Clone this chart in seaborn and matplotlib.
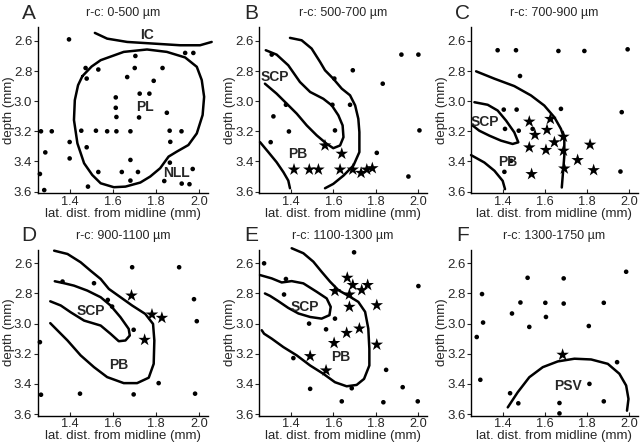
import numpy as np
import pandas as pd
import seaborn as sns
import matplotlib.pyplot as plt

# ==============================================================================
# 1. DATA (lat. dist. in mm, depth in mm)
# ==============================================================================
LETTERS = ['A', 'B', 'C', 'D', 'E', 'F']
TITLES = ['r-c: 0-500 \u00b5m', 'r-c: 500-700 \u00b5m', 'r-c: 700-900 \u00b5m',
          'r-c: 900-1100 \u00b5m', 'r-c: 1100-1300 \u00b5m', 'r-c: 1300-1750 \u00b5m']
X_TICKS = [1.4, 1.6, 1.8, 2.0]
Y_TICKS = [2.6, 2.8, 3.0, 3.2, 3.4, 3.6]

# --- panel A
A_DOTS = [(1.395, 2.59), (1.703, 2.70), (1.934, 2.68), (1.972, 2.68), (1.472, 2.78),
          (1.531, 2.79), (1.70, 2.78), (1.829, 2.78), (1.477, 2.85), (1.665, 2.84),
          (1.788, 2.865), (1.723, 2.95), (1.768, 2.95), (1.612, 2.975), (1.612, 3.044),
          (1.615, 3.105), (1.72, 3.108), (1.849, 3.077), (1.265, 3.20), (1.315, 3.20),
          (1.452, 3.196), (1.52, 3.196), (1.572, 3.20), (1.615, 3.20), (1.68, 3.20),
          (1.862, 3.196), (1.917, 3.20), (1.398, 3.271), (1.477, 3.306), (1.865, 3.27),
          (1.285, 3.34), (1.398, 3.38), (1.68, 3.39), (1.863, 3.408), (1.26, 3.483),
          (1.531, 3.47), (1.64, 3.47), (1.715, 3.47), (1.969, 3.45), (1.68, 3.527),
          (1.837, 3.53), (1.483, 3.567), (1.918, 3.547), (1.954, 3.551), (1.28, 3.59)]
A_STARS = []
A_LINES = [
    [(1.515, 2.547), (1.572, 2.585), (1.665, 2.607), (1.788, 2.618), (1.911, 2.629),
     (2.003, 2.629), (2.057, 2.607)],
    [(1.457, 2.834), (1.50, 2.77), (1.542, 2.728), (1.649, 2.673), (1.757, 2.657),
     (1.849, 2.673), (1.934, 2.71), (1.988, 2.772), (2.011, 2.86), (2.022, 2.971),
     (2.015, 3.092), (1.988, 3.214), (1.949, 3.291), (1.895, 3.335), (1.857, 3.368),
     (1.818, 3.445), (1.772, 3.50), (1.726, 3.54), (1.657, 3.567), (1.603, 3.571),
     (1.542, 3.545), (1.503, 3.49), (1.465, 3.412), (1.434, 3.28), (1.418, 3.125),
     (1.422, 2.993), (1.437, 2.894), (1.457, 2.834)],
]
A_LABELS = [('IC', 1.757, 2.562), ('PL', 1.749, 3.037), ('NLL', 1.895, 3.479)]

# --- panel B
B_DOTS = [(1.309, 2.691), (1.92, 2.691), (2.0, 2.691), (1.691, 2.795), (1.604, 2.85),
          (1.832, 2.884), (1.376, 3.024), (1.595, 3.024), (1.678, 3.024), (1.317, 3.101),
          (1.39, 3.201), (1.607, 3.194), (2.005, 3.194), (1.304, 3.272), (1.804, 3.343),
          (1.953, 3.50)]
B_STARS = [(1.56, 3.294), (1.639, 3.349), (1.414, 3.454), (1.486, 3.454), (1.529, 3.454),
           (1.631, 3.454), (1.691, 3.454), (1.73, 3.476), (1.757, 3.454), (1.783, 3.445)]
B_LINES = [
    [(1.395, 2.58), (1.45, 2.596), (1.497, 2.651), (1.537, 2.74), (1.56, 2.795),
     (1.599, 2.851), (1.639, 2.917), (1.678, 2.961), (1.702, 3.028), (1.717, 3.117),
     (1.722, 3.205), (1.722, 3.338), (1.694, 3.427), (1.647, 3.494), (1.599, 3.549),
     (1.56, 3.578)],
    [(1.281, 2.662), (1.332, 2.691), (1.387, 2.762), (1.442, 2.873), (1.49, 2.939),
     (1.552, 2.984), (1.592, 3.028), (1.623, 3.094), (1.643, 3.161), (1.647, 3.239),
     (1.631, 3.294), (1.599, 3.312), (1.568, 3.283), (1.521, 3.227), (1.474, 3.161),
     (1.427, 3.083), (1.38, 3.017), (1.332, 2.95), (1.277, 2.884)],
    [(1.254, 3.272), (1.293, 3.338), (1.332, 3.405), (1.364, 3.471), (1.387, 3.527),
     (1.395, 3.578)],
]
B_LABELS = [('SCP', 1.325, 2.84), ('PB', 1.43, 3.35)]

# --- panel C
C_DOTS = [(1.376, 2.662), (1.463, 2.662), (1.664, 2.667), (1.787, 2.667), (1.992, 2.656),
          (1.482, 2.833), (1.405, 3.056), (1.466, 3.056), (1.676, 3.051), (1.964, 3.073),
          (1.411, 3.184), (1.476, 3.196), (1.542, 3.184), (1.44, 3.396), (1.408, 3.469),
          (1.958, 3.467)]
C_STARS = [(1.526, 3.136), (1.626, 3.118), (1.553, 3.224), (1.61, 3.191), (1.688, 3.236),
           (1.645, 3.273), (1.526, 3.307), (1.605, 3.324), (1.688, 3.329), (1.814, 3.289),
           (1.755, 3.391), (1.692, 3.447), (1.831, 3.458), (1.537, 3.484)]
C_LINES = [
    [(1.274, 2.802), (1.361, 2.851), (1.455, 2.90), (1.534, 2.962), (1.597, 3.029),
     (1.645, 3.107), (1.676, 3.184), (1.692, 3.251), (1.692, 3.362), (1.687, 3.451),
     (1.68, 3.573)],
    [(1.266, 3.007), (1.329, 3.024), (1.376, 3.062), (1.416, 3.129), (1.455, 3.207),
     (1.474, 3.273), (1.447, 3.284), (1.392, 3.262), (1.337, 3.229), (1.289, 3.196),
     (1.258, 3.162)],
    [(1.25, 3.358), (1.313, 3.407), (1.361, 3.462), (1.40, 3.529), (1.411, 3.584)],
]
C_LABELS = [('SCP', 1.313, 3.14), ('PB', 1.424, 3.407)]

# --- panel D
D_DOTS = [(1.688, 2.626), (1.906, 2.626), (1.365, 2.721), (1.511, 2.732), (1.575, 2.843),
          (1.595, 2.887), (1.975, 2.838), (1.988, 2.984), (1.695, 3.041), (1.26, 3.123),
          (1.811, 3.395), (1.265, 3.472), (1.446, 3.465), (1.695, 3.47), (1.98, 3.465)]
D_STARS = [(1.685, 2.814), (1.78, 2.94), (1.826, 2.962), (1.746, 3.108)]
D_LINES = [
    [(1.326, 2.516), (1.388, 2.538), (1.449, 2.593), (1.495, 2.649), (1.542, 2.704),
     (1.58, 2.77), (1.634, 2.825), (1.688, 2.88), (1.749, 2.936), (1.785, 3.002),
     (1.791, 3.112), (1.788, 3.267), (1.765, 3.359), (1.711, 3.395), (1.649, 3.395),
     (1.572, 3.355), (1.511, 3.289), (1.449, 3.211), (1.388, 3.112), (1.342, 3.046),
     (1.308, 2.997)],
    [(1.329, 2.719), (1.372, 2.732), (1.418, 2.748), (1.48, 2.781), (1.542, 2.825),
     (1.588, 2.88), (1.634, 2.958), (1.672, 3.035), (1.677, 3.079), (1.657, 3.112),
     (1.626, 3.117), (1.588, 3.068), (1.542, 3.013), (1.465, 2.98), (1.403, 2.925),
     (1.357, 2.88), (1.308, 2.852)],
]
D_LABELS = [('SCP', 1.495, 2.918), ('PB', 1.626, 3.278)]

# --- panel E
E_DOTS = [(1.273, 2.60), (1.376, 2.704), (1.367, 2.807), (1.697, 2.527), (2.0, 2.751),
          (1.485, 3.0), (1.607, 2.967), (1.565, 3.038), (1.411, 3.229), (1.49, 3.433),
          (1.686, 3.429), (1.848, 3.307), (1.926, 3.422), (1.639, 3.516), (1.835, 3.522),
          (1.997, 3.516)]
E_STARS = [(1.665, 2.696), (1.691, 2.744), (1.761, 2.744), (1.733, 2.778), (1.607, 2.784),
           (1.675, 2.807), (1.675, 2.889), (1.804, 2.878), (1.722, 3.033), (1.662, 3.062),
           (1.603, 3.129), (1.804, 3.14), (1.49, 3.216), (1.565, 3.311)]
E_LINES = [
    [(1.403, 2.50), (1.458, 2.533), (1.505, 2.589), (1.544, 2.656), (1.584, 2.722),
     (1.623, 2.778), (1.678, 2.822), (1.717, 2.856), (1.749, 2.922), (1.764, 3.033),
     (1.769, 3.167), (1.769, 3.278), (1.744, 3.367), (1.709, 3.407), (1.662, 3.416),
     (1.607, 3.389), (1.552, 3.333), (1.49, 3.278), (1.427, 3.211), (1.364, 3.156),
     (1.309, 3.10), (1.273, 3.067), (1.262, 3.044)],
    [(1.254, 2.678), (1.309, 2.70), (1.356, 2.727), (1.403, 2.718), (1.458, 2.733),
     (1.521, 2.789), (1.568, 2.833), (1.587, 2.889), (1.581, 2.944), (1.544, 2.967),
     (1.49, 2.956), (1.435, 2.933), (1.387, 2.896), (1.34, 2.851), (1.301, 2.816),
     (1.277, 2.80)],
]
E_LABELS = [('SCP', 1.463, 2.889), ('PB', 1.636, 3.222)]

# --- panel F
F_DOTS = [(1.518, 2.696), (1.689, 2.70), (1.985, 2.656), (1.302, 2.804), (1.484, 2.86),
          (1.602, 2.862), (1.689, 2.867), (1.879, 2.862), (1.444, 2.933), (1.605, 2.956),
          (1.307, 2.993), (1.526, 3.022), (1.808, 3.016), (1.277, 3.089), (1.942, 3.256),
          (1.294, 3.373), (1.811, 3.40), (1.435, 3.462), (1.474, 3.529), (1.669, 3.527),
          (1.879, 3.516), (1.669, 3.596)]
F_STARS = [(1.684, 3.207)]
F_LINES = [
    [(1.424, 3.556), (1.471, 3.456), (1.526, 3.356), (1.59, 3.289), (1.661, 3.251),
     (1.74, 3.233), (1.819, 3.238), (1.898, 3.267), (1.953, 3.333), (1.985, 3.411),
     (1.996, 3.50), (1.989, 3.578)],
]
F_LABELS = [('PSV', 1.708, 3.411)]

PANEL_DATA = [
    (A_DOTS, A_STARS, A_LINES, A_LABELS),
    (B_DOTS, B_STARS, B_LINES, B_LABELS),
    (C_DOTS, C_STARS, C_LINES, C_LABELS),
    (D_DOTS, D_STARS, D_LINES, D_LABELS),
    (E_DOTS, E_STARS, E_LINES, E_LABELS),
    (F_DOTS, F_STARS, F_LINES, F_LABELS),
]

# ==============================================================================
# 2. FIGURE
# ==============================================================================
sns.set_style("ticks")
plt.rcParams['font.family'] = ['Liberation Sans', 'DejaVu Sans']

fig = plt.figure(figsize=(6.4, 4.48), dpi=100)
lefts = [0.059, 0.405, 0.736]
widths = [0.266, 0.262, 0.2605]
bottoms = [0.569, 0.0725]
H = 0.370

for i, (letter, title, data) in enumerate(zip(LETTERS, TITLES, PANEL_DATA)):
    dots, stars, lines, labels = data
    ax = fig.add_axes([lefts[i % 3], bottoms[i // 3], widths[i % 3], H])

    for line in lines:
        df_l = pd.DataFrame(line, columns=['x', 'y'])
        sns.lineplot(data=df_l, x='x', y='y', sort=False, estimator=None, ax=ax,
                     color='black', lw=1.8, clip_on=False, solid_joinstyle='round',
                     solid_capstyle='round')

    df_d = pd.DataFrame(dots, columns=['x', 'y'])
    sns.scatterplot(data=df_d, x='x', y='y', ax=ax, color='black', s=11,
                    edgecolor='none', clip_on=False, zorder=3)
    if stars:
        df_s = pd.DataFrame(stars, columns=['x', 'y'])
        sns.scatterplot(data=df_s, x='x', y='y', ax=ax, color='black', s=90,
                        marker='*', edgecolor='none', clip_on=False, zorder=3)

    for txt, lx, ly in labels:
        ax.text(lx, ly, txt, ha='center', va='center', fontsize=10, fontweight='bold')

    ax.set_xlim(1.25, 2.04)
    ax.set_ylim(3.61, 2.51)
    ax.set_xticks(X_TICKS)
    ax.set_yticks(Y_TICKS)
    ax.set_xticklabels([f'{v:.1f}' for v in X_TICKS], fontsize=9.2)
    ax.set_yticklabels([f'{v:.1f}' for v in Y_TICKS], fontsize=9.5)
    ax.tick_params(axis='x', direction='in', length=3, pad=2, width=0.8)
    ax.tick_params(axis='y', direction='out', length=3, pad=1, width=0.8)
    ax.set_xlabel('lat. dist. from midline (mm)', fontsize=9.5, labelpad=0)
    ax.set_ylabel('depth (mm)', fontsize=9.5, labelpad=-0.5)
    sns.despine(ax=ax)
    for sp in ['left', 'bottom']:
        ax.spines[sp].set_linewidth(1.0)
        ax.spines[sp].set_color('black')

    ax.text(0.5, 1.085, title, transform=ax.transAxes, ha='center', va='center',
            fontsize=9)
    ax.text(-0.05, 1.085, letter, transform=ax.transAxes, ha='center', va='center',
            fontsize=15)

plt.savefig('out.png', dpi=100)
plt.close()
